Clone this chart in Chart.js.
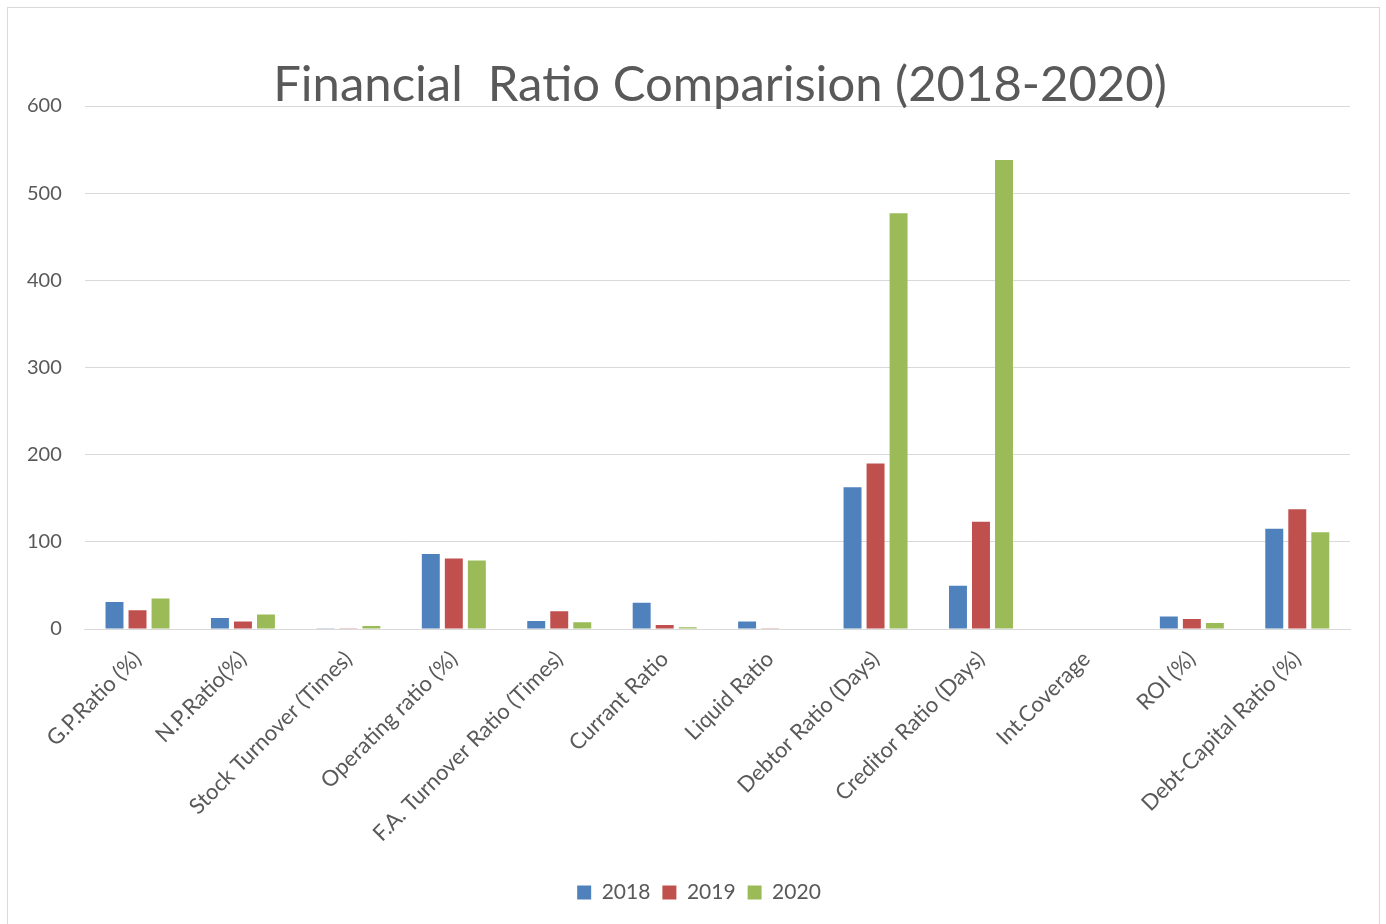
<!DOCTYPE html>
<html>
<head>
<meta charset="utf-8">
<script src="https://cdn.jsdelivr.net/npm/chart.js@4.4.1/dist/chart.umd.min.js"></script>
<style>
  html, body { margin: 0; padding: 0; background: #fff; overflow: hidden; }
  #frame { position: absolute; left: 7px; top: 7px; width: 1373px; height: 940px; border: 1px solid #d9d9d9; box-sizing: border-box; }
  #c { position: absolute; left: 0; top: 0; }
</style>
</head>
<body>
<div id="frame"></div>
<canvas id="c" width="1386" height="924" style="width:1386px;height:924px"></canvas>
<script>
const categories = ["G.P.Ratio (%)", "N.P.Ratio(%)", "Stock Turnover (Times)", "Operating ratio (%)", "F.A. Turnover Ratio (Times)", "Currant Ratio", "Liquid Ratio", "Debtor Ratio (Days)", "Creditor Ratio (Days)", "Int.Coverage", "ROI (%)", "Debt-Capital Ratio (%)"];
const values2018 = [31, 12.7, 1, 86, 9.2, 30, 8.5, 162.5, 49.5, 0, 14.2, 115];
const values2019 = [21.5, 8.5, 0.8, 81, 20.4, 4.6, 0.8, 190, 123, 0, 11.5, 137.5];
const values2020 = [35, 16.5, 3.5, 78.5, 7.7, 2, 0.5, 477, 538, 0, 6.9, 111];
const seriesNames = ["2018", "2019", "2020"];
const yTicks = [0, 100, 200, 300, 400, 500, 600];

const colors = ["#4f81bd", "#c0504d", "#9bbb59"];
const FONT = "Lato, 'Open Sans', sans-serif";

const titlePlugin = {
  id: 'overlayTitle',
  afterLayout(chart) {
    if (chart.legend) { chart.legend.left += 22; chart.legend.right += 22; }
  },
  afterDraw(chart) {
    const ctx = chart.ctx;
    ctx.save();
    ctx.font = "49px " + FONT;
    ctx.fillStyle = "#595959";
    ctx.textAlign = "center";
    ctx.textBaseline = "alphabetic";
    ctx.fillText("Financial  Ratio Comparision (2018-2020)", 720, 101);
    ctx.restore();
  }
};

new Chart(document.getElementById('c'), {
  type: 'bar',
  data: {
    labels: categories,
    datasets: [values2018, values2019, values2020].map((d, i) => ({
      label: seriesNames[i],
      data: d,
      backgroundColor: colors[i],
      borderWidth: 0,
      barPercentage: 0.78,
      categoryPercentage: 0.655
    }))
  },
  options: {
    responsive: false,
    animation: false,
    devicePixelRatio: 1,
    layout: { padding: { left: 4, right: 36, top: 106, bottom: 11 } },
    plugins: {
      title: { display: false },
      tooltip: { enabled: false },
      legend: {
        position: 'bottom',
        labels: {
          font: { family: FONT, size: 21 },
          color: "#595959",
          boxWidth: 14,
          boxHeight: 14,
          padding: 12
        }
      }
    },
    scales: {
      x: {
        grid: { display: false, drawTicks: false },
        border: { color: "#d9d9d9", width: 1 },
        afterFit(scale) { scale.height = 241; },
        ticks: {
          font: { family: FONT, size: 22 },
          color: "#595959",
          maxRotation: 45,
          minRotation: 45,
          padding: 17,
          autoSkip: false
        }
      },
      y: {
        min: 0,
        max: 600,
        afterBuildTicks(axis) { axis.ticks = yTicks.map(v => ({ value: v })); },
        grid: { color: "#d9d9d9", lineWidth: 1, drawTicks: false },
        border: { display: false },
        ticks: {
          font: { family: FONT, size: 20 },
          color: "#595959",
          padding: 23
        }
      }
    }
  },
  plugins: [titlePlugin]
});
</script>
</body>
</html>
